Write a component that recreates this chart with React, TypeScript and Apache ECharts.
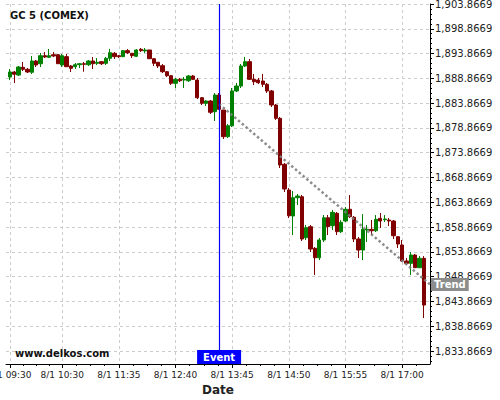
import { useEffect, useRef } from 'react';
import * as echarts from 'echarts';

const times = [
  '09:30', '09:35', '09:40', '09:45', '09:50', '09:55',
  '10:00', '10:05', '10:10', '10:15', '10:20', '10:25', '10:30', '10:35', '10:40', '10:45', '10:50', '10:55',
  '11:00', '11:05', '11:10', '11:15', '11:20', '11:25', '11:30', '11:35', '11:40', '11:45', '11:50', '11:55',
  '12:00', '12:05', '12:10', '12:15', '12:20', '12:25', '12:30', '12:35', '12:40', '12:45', '12:50', '12:55',
  '13:00', '13:05', '13:10', '13:15', '13:20', '13:25', '13:30', '13:35', '13:40', '13:45', '13:50', '13:55',
  '14:00', '14:05', '14:10', '14:15', '14:20', '14:25', '14:30', '14:35', '14:40', '14:45', '14:50', '14:55',
  '15:00', '15:05', '15:10', '15:15', '15:20', '15:25', '15:30', '15:35', '15:40', '15:45', '15:50', '15:55',
  '16:00', '16:05', '16:10', '16:15', '16:20', '16:25', '16:30', '16:35', '16:40', '16:45', '16:50', '16:55',
  '17:00', '17:05', '17:10', '17:15', '17:20', '17:25',
];

const opens = [
  1889.14, 1890.15, 1889.54, 1891.10, 1890.69, 1890.09, 1892.37, 1891.82, 1893.44, 1893.11,
  1893.64, 1893.64, 1891.56, 1893.24, 1891.36, 1891.22, 1891.62, 1891.82, 1891.62, 1892.37,
  1891.90, 1892.23, 1891.90, 1892.91, 1893.92, 1893.44, 1893.24, 1894.45, 1893.92, 1893.32,
  1894.73, 1894.39, 1894.59, 1892.83, 1892.11, 1891.42, 1890.21, 1889.40, 1887.87, 1888.67,
  1888.53, 1888.39, 1889.34, 1888.53, 1884.96, 1883.83, 1884.30, 1882.14, 1885.51, 1882.48,
  1877.10, 1879.31, 1886.32, 1887.32, 1891.36, 1892.23, 1888.67, 1888.53, 1888.33, 1887.67,
  1886.32, 1883.49, 1880.81, 1871.53, 1866.34, 1861.10, 1864.79, 1864.99, 1856.72, 1858.94,
  1854.58, 1852.68, 1856.26, 1860.75, 1859.14, 1861.64, 1857.93, 1860.09, 1862.45, 1860.84,
  1856.46, 1854.24, 1858.27, 1858.41, 1858.13, 1860.63, 1860.35, 1860.29, 1860.09, 1856.92,
  1855.25, 1852.02, 1851.55, 1853.23, 1850.67, 1852.56,
];

const closes = [
  1890.15, 1889.69, 1891.16, 1890.69, 1890.15, 1892.37, 1891.56, 1893.44, 1893.17, 1893.44,
  1893.38, 1891.82, 1893.44, 1891.22, 1890.89, 1891.62, 1891.82, 1891.70, 1892.37, 1891.82,
  1892.11, 1891.82, 1892.91, 1894.04, 1893.24, 1893.24, 1894.45, 1894.04, 1893.44, 1894.59,
  1894.45, 1894.59, 1892.83, 1891.90, 1891.36, 1890.21, 1889.40, 1887.87, 1888.67, 1888.39,
  1888.67, 1889.34, 1888.67, 1884.96, 1883.83, 1884.30, 1882.02, 1885.51, 1882.62, 1877.10,
  1879.31, 1886.32, 1887.32, 1891.36, 1892.23, 1888.67, 1888.19, 1887.99, 1887.67, 1886.32,
  1883.49, 1880.81, 1871.39, 1866.55, 1861.16, 1864.79, 1865.13, 1856.46, 1858.74, 1854.44,
  1852.68, 1856.26, 1860.75, 1858.94, 1861.84, 1857.93, 1859.83, 1862.45, 1860.96, 1856.46,
  1854.24, 1858.41, 1858.41, 1858.13, 1860.43, 1860.09, 1860.49, 1860.09, 1857.12, 1855.45,
  1852.02, 1851.55, 1853.23, 1850.67, 1852.56, 1843.14,
];

const lows = [
  1888.53, 1887.93, 1889.34, 1890.35, 1889.95, 1889.75, 1891.16, 1891.16, 1892.97, 1892.97,
  1893.17, 1891.76, 1891.16, 1891.16, 1890.15, 1890.75, 1890.95, 1890.21, 1891.36, 1890.75,
  1891.56, 1891.56, 1891.56, 1892.37, 1892.77, 1892.97, 1893.17, 1893.78, 1892.97, 1893.17,
  1894.18, 1893.98, 1892.77, 1891.36, 1890.95, 1889.95, 1889.14, 1887.53, 1886.92, 1888.13,
  1886.92, 1888.13, 1888.53, 1884.70, 1883.49, 1883.29, 1881.68, 1880.26, 1882.48, 1876.63,
  1876.83, 1879.05, 1886.11, 1886.92, 1891.16, 1888.53, 1887.53, 1887.73, 1887.12, 1885.91,
  1883.09, 1880.47, 1870.78, 1865.94, 1860.69, 1857.27, 1863.32, 1856.05, 1856.26, 1853.83,
  1849.20, 1852.22, 1855.85, 1857.27, 1858.27, 1857.27, 1857.67, 1859.89, 1860.69, 1855.85,
  1852.62, 1852.22, 1855.85, 1857.27, 1857.87, 1858.68, 1859.89, 1859.08, 1856.46, 1854.64,
  1851.82, 1851.21, 1849.20, 1850.61, 1850.61, 1840.51,
];

const highs = [
  1890.75, 1890.35, 1891.36, 1892.17, 1890.95, 1893.38, 1892.57, 1893.98, 1894.18, 1894.79,
  1894.18, 1893.78, 1893.78, 1893.78, 1891.56, 1891.96, 1891.96, 1892.17, 1892.57, 1893.17,
  1892.97, 1892.37, 1893.17, 1894.79, 1894.18, 1893.58, 1894.59, 1894.79, 1893.98, 1894.79,
  1894.99, 1894.99, 1894.59, 1892.97, 1892.17, 1891.76, 1890.35, 1889.54, 1888.94, 1888.94,
  1889.14, 1889.54, 1889.54, 1888.94, 1885.10, 1884.50, 1884.50, 1885.91, 1885.91, 1882.48,
  1879.66, 1886.92, 1887.93, 1891.76, 1893.17, 1892.77, 1889.75, 1888.94, 1889.75, 1887.93,
  1886.52, 1883.69, 1881.07, 1871.79, 1866.75, 1866.14, 1865.54, 1865.34, 1859.28, 1859.28,
  1854.84, 1856.66, 1861.30, 1861.30, 1862.31, 1861.90, 1860.29, 1862.91, 1865.34, 1861.10,
  1856.86, 1861.50, 1859.28, 1860.29, 1861.30, 1861.70, 1861.30, 1860.69, 1860.29, 1857.06,
  1856.26, 1852.62, 1853.83, 1853.43, 1853.02, 1853.02,
];

const xTickIndex = [0, 12, 25, 38, 51, 64, 77, 90];
const yTicks = [
  1833.8669, 1838.8669, 1843.8669, 1848.8669, 1853.8669, 1858.8669, 1863.8669, 1868.8669,
  1873.8669, 1878.8669, 1883.8669, 1888.8669, 1893.8669, 1898.8669, 1903.8669,
];
const datePrefix = '8/1 ';
const eventIndex = 48;
const eventLabel = 'Event';
const trendX = [48, 96.4];
const trendY = [1883.7, 1847.3];
const trendLabel = 'Trend';
const titleText = 'GC 5 (COMEX)';
const siteText = 'www.delkos.com';

const xMin = -0.9;
const xMax = 96.4;
const yMin = 1831.245;
const yMax = 1903.8669;

const xMinor: number[] = [];
for (let i = 0; i < xTickIndex.length; i++) {
  const a = xTickIndex[i];
  const b = i + 1 < xTickIndex.length ? xTickIndex[i + 1] : a + 13;
  for (let k = 1; k < 4; k++) {
    const v = a + ((b - a) * k) / 4;
    if (v <= xMax) xMinor.push(v);
  }
}
const yMinor: number[] = [];
for (let v = yTicks[0] - 2; v <= yMax + 1e-6; v += 1) {
  if (v >= yMin) yMinor.push(Number(v.toFixed(4)));
}

const FONT = 'DejaVu Sans';

export default function App() {
  const ref = useRef<HTMLDivElement>(null);
  useEffect(() => {
    const chart = echarts.init(ref.current!, null, { renderer: 'svg' });
    const candles = opens.map((o, i) => [i, o, closes[i], lows[i], highs[i]]);
    const fmtY = (v: number) =>
      v.toLocaleString('en-US', { minimumFractionDigits: 4, maximumFractionDigits: 4 });
    const splitStyle = { type: [3, 3], color: '#cccccc', width: 1 };
    chart.setOption({
      animation: false,
      backgroundColor: '#ffffff',
      textStyle: { fontFamily: FONT },
      title: [
        {
          text: titleText,
          left: 10,
          top: 10,
          padding: 0,
          textStyle: { fontFamily: FONT, fontSize: 10, fontWeight: 'bold', color: '#111' },
        },
        {
          text: siteText,
          left: 15,
          top: 348,
          padding: 0,
          textStyle: { fontFamily: FONT, fontSize: 10, fontWeight: 'bold', color: '#111' },
        },
      ],
      grid: { left: 6, right: 70, top: 4, bottom: 36, containLabel: false, outerBoundsMode: 'none' },
      xAxis: [
        {
          type: 'value',
          min: xMin,
          max: xMax,
          position: 'bottom',
          name: 'Date',
          nameLocation: 'middle',
          nameGap: 18,
          nameTextStyle: { fontFamily: FONT, fontSize: 12, fontWeight: 'bold', color: '#222' },
          axisLine: { show: true, onZero: false, lineStyle: { color: '#000', width: 1 } },
          axisTick: { show: true, customValues: xTickIndex, length: 4, lineStyle: { color: '#000' } },
          axisLabel: {
            customValues: xTickIndex,
            formatter: (v: number) => datePrefix + times[Math.round(v)],
            fontSize: 9,
            color: '#222',
            margin: 6,
            fontFamily: FONT,
          },
          splitLine: { show: true, lineStyle: splitStyle },
        },
        {
          type: 'value',
          min: xMin,
          max: xMax,
          position: 'bottom',
          axisLine: { show: false, onZero: false },
          axisTick: { show: true, customValues: xMinor, length: 2, lineStyle: { color: '#000' } },
          axisLabel: { show: false },
          splitLine: { show: false },
        },
      ],
      yAxis: [
        {
          type: 'value',
          position: 'right',
          min: yMin,
          max: yMax,
          axisLine: { show: true, onZero: false, lineStyle: { color: '#000', width: 1 } },
          axisTick: { show: true, customValues: yTicks, length: 4, lineStyle: { color: '#000' } },
          axisLabel: {
            customValues: yTicks,
            formatter: fmtY,
            fontSize: 10,
            color: '#222',
            margin: 5,
            fontFamily: FONT,
          },
          splitLine: { show: true, lineStyle: splitStyle },
        },
        {
          type: 'value',
          position: 'right',
          min: yMin,
          max: yMax,
          axisLine: { show: false, onZero: false },
          axisTick: { show: true, customValues: yMinor, length: 2, lineStyle: { color: '#000' } },
          axisLabel: { show: false },
          splitLine: { show: false },
        },
      ],
      series: [
        {
          type: 'candlestick',
          xAxisIndex: 0,
          yAxisIndex: 0,
          data: candles,
          barWidth: 3.8,
          itemStyle: {
            color: '#008000',
            color0: '#800000',
            borderColor: '#008000',
            borderColor0: '#800000',
            borderWidth: 1,
          },
          markLine: {
            silent: true,
            symbol: ['none', 'none'],
            label: { show: false },
            lineStyle: { color: '#0000ff', width: 1.2, type: 'solid', opacity: 1 },
            z: 6,
            data: [
              {
                xAxis: eventIndex,
                lineStyle: { color: '#0000ff', width: 1.2, type: 'solid', opacity: 1 },
              },
            ],
          },
          markPoint: {
            silent: true,
            z: 7,
            data: [
              {
                coord: [eventIndex, yMin],
                symbol: 'rect',
                symbolSize: [44, 14],
                symbolOffset: [0, -7],
                itemStyle: { color: '#0000ff' },
                label: {
                  show: true,
                  position: 'inside',
                  formatter: eventLabel,
                  color: '#ffffff',
                  fontWeight: 'bold',
                  fontSize: 10,
                  fontFamily: FONT,
                },
              },
            ],
          },
        },
        {
          type: 'line',
          xAxisIndex: 0,
          yAxisIndex: 0,
          data: trendX.map((x, i) => [x, trendY[i]]),
          symbol: 'none',
          lineStyle: { color: '#7f7f7f', width: 2.5, type: [2.5, 2.5], opacity: 0.9 },
          z: 3,
          endLabel: {
            show: true,
            formatter: trendLabel,
            color: '#ffffff',
            backgroundColor: '#8c8c8c',
            fontWeight: 'bold',
            fontSize: 10,
            fontFamily: FONT,
            padding: [2, 3, 1, 3],
            distance: 1,
          },
        },
      ],
    });
    return () => chart.dispose();
  }, []);
  return (
    <div
      ref={ref}
      style={{ position: 'absolute', left: 0, top: 0, width: 500, height: 400 }}
    />
  );
}
